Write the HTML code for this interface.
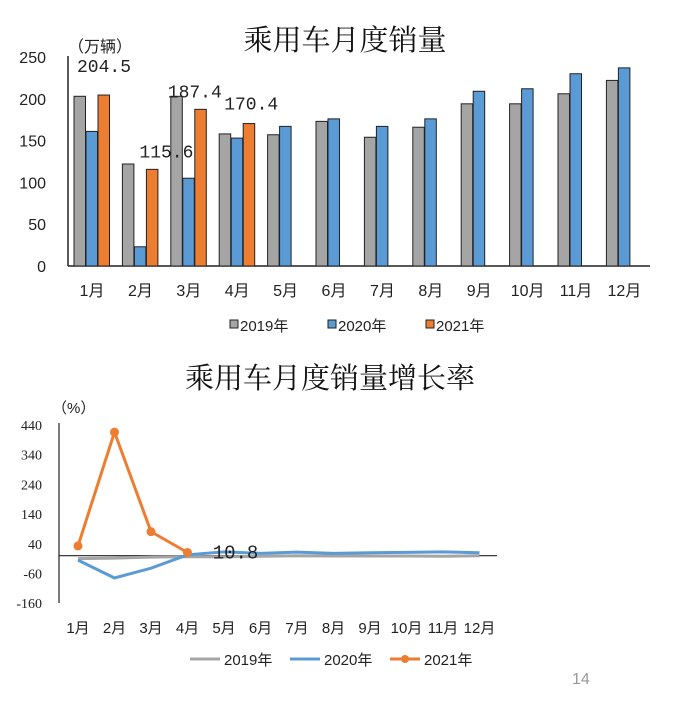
<!DOCTYPE html>
<html><head><meta charset="utf-8"><style>
html,body{margin:0;padding:0;background:#fff}
svg{display:block;font-family:"Liberation Sans","Noto Sans CJK SC",sans-serif}
</style></head><body>
<svg id="s" width="682" height="704" viewBox="0 0 682 704">
<text x="345" y="50" font-size="29" text-anchor="middle" fill="#111" font-family="Noto Serif CJK SC,serif">乘用车月度销量</text>
<text x="68" y="52" font-size="16" fill="#222">（万辆）</text>
<text x="330" y="388" font-size="29" text-anchor="middle" fill="#111" font-family="Noto Serif CJK SC,serif">乘用车月度销量增长率</text>
<text x="52" y="413" font-size="15" fill="#222">（%）</text>
<text x="572" y="684" font-size="16" fill="#999">14</text>
<g id="topg"></g><g id="botg"></g>
</svg>
<script>
const months=['1月','2月','3月','4月','5月','6月','7月','8月','9月','10月','11月','12月'];
const sales2019=[203,122,203,158,157,173,154,166,194,194,206,222];
const sales2020=[161,23,105,153,167,176,167,176,209,212,230,237];
const sales2021=[204.5,115.6,187.4,170.4];
const salesTicks=[0,50,100,150,200,250];
const growth2019=[-10,-8,-5,-3,-4,-2,0,-1,-1,-1,-2,0];
const growth2020=[-15,-75,-42,3,13,8,12,8,10,11,13,10];
const growth2021=[33,416,81,10.8];
const growthTicks=[-160,-60,40,140,240,340,440];
{
const NS='http://www.w3.org/2000/svg';
function mk(p,t,a){const e=document.createElementNS(NS,t);for(const k in a)e.setAttribute(k,a[k]);p.appendChild(e);return e;}
const gTop=document.getElementById('topg'),gBot=document.getElementById('botg');
const yT=v=>266-v*(209/250);
const xT=i=>92+i*48.4;
let l;
l=mk(gTop,'line',{x1:68,y1:56,x2:68,y2:266,stroke:'#222','stroke-width':1.5});


l=mk(gTop,'line',{x1:68,y1:266,x2:650,y2:266,stroke:'#222','stroke-width':1.5});


salesTicks.forEach(v=>{const t=mk(gTop,'text',{x:46,y:yT(v)+6,'font-size':16,'text-anchor':'end',fill:'#222'});t.textContent=v;

});
months.forEach((m,i)=>{const t=mk(gTop,'text',{x:xT(i),y:296,'font-size':16,'text-anchor':'middle',fill:'#222'});t.textContent=m;

});
const series=[[sales2019,'#a5a5a5',-12],[sales2020,'#5b9bd5',0],[sales2021,'#ed7d31',12]];
const snames=['bar-2019','bar-2020','bar-2021'];
series.forEach(([d,c,off],si)=>d.forEach((v,i)=>{const x=xT(i)+off-6;
const r=mk(gTop,'rect',{x:x,y:yT(v),width:11.5,height:266-yT(v),fill:c,stroke:'#222','stroke-width':1});

}));
sales2021.forEach((v,i)=>{const t=mk(gTop,'text',{x:xT(i)+[12,26,6,14][i],y:yT(v)-[12,12,12,14][i]-(i==0?11:0),'font-size':18,'text-anchor':'middle',fill:'#222','font-family':'Liberation Mono,monospace'});t.textContent=v.toFixed(1);

});
const legT=[['2019年','#a5a5a5',230],['2020年','#5b9bd5',328],['2021年','#ed7d31',426]];
legT.forEach(([n,c,x])=>{const g=mk(gTop,'g',{});


mk(g,'rect',{x:x,y:320,width:8,height:8,fill:c,stroke:'#222'});const t=mk(g,'text',{x:x+10,y:331,'font-size':15,fill:'#222'});t.textContent=n;});
const yB=v=>555.7-v*0.297;
const xB=i=>78+i*36.5;
l=mk(gBot,'line',{x1:59,y1:423,x2:59,y2:603,stroke:'#222','stroke-width':1.2});


l=mk(gBot,'line',{x1:59,y1:yB(0),x2:497,y2:yB(0),stroke:'#222','stroke-width':1.2});


growthTicks.forEach(v=>{const t=mk(gBot,'text',{x:42,y:yB(v)+5,'font-size':14,'text-anchor':'end',fill:'#222','font-family':'Liberation Serif,serif'});t.textContent=v;

});
months.forEach((m,i)=>{const t=mk(gBot,'text',{x:xB(i),y:633,'font-size':15,'text-anchor':'middle',fill:'#222'});t.textContent=m;

});
function line(d,c,name){const p=mk(gBot,'polyline',{points:d.map((v,i)=>xB(i)+','+yB(v)).join(' '),fill:'none',stroke:c,'stroke-width':3});

return p;}
line(growth2019,'#a5a5a5','line-2019');
line(growth2020,'#5b9bd5','line-2020');
line(growth2021,'#ed7d31','line-2021');
growth2021.forEach((v,i)=>{const c=mk(gBot,'circle',{cx:xB(i),cy:yB(v),r:4.5,fill:'#ed7d31'});

});
const lab=mk(gBot,'text',{x:xB(3)+48,y:yB(growth2021[3])+6,'font-size':19,'text-anchor':'middle',fill:'#222','font-family':'Liberation Mono,monospace'});
lab.textContent=growth2021[3].toFixed(1);


const legB=[['2019年','#a5a5a5',190],['2020年','#5b9bd5',290],['2021年','#ed7d31',390]];
legB.forEach(([n,c,x])=>{const g=mk(gBot,'g',{});


mk(g,'line',{x1:x,y1:659,x2:x+30,y2:659,stroke:c,'stroke-width':3});
if(n==='2021年')mk(g,'circle',{cx:x+15,cy:659,r:4,fill:c});
const t=mk(g,'text',{x:x+34,y:665,'font-size':15,fill:'#222'});t.textContent=n;});
}
</script>
</body></html>
